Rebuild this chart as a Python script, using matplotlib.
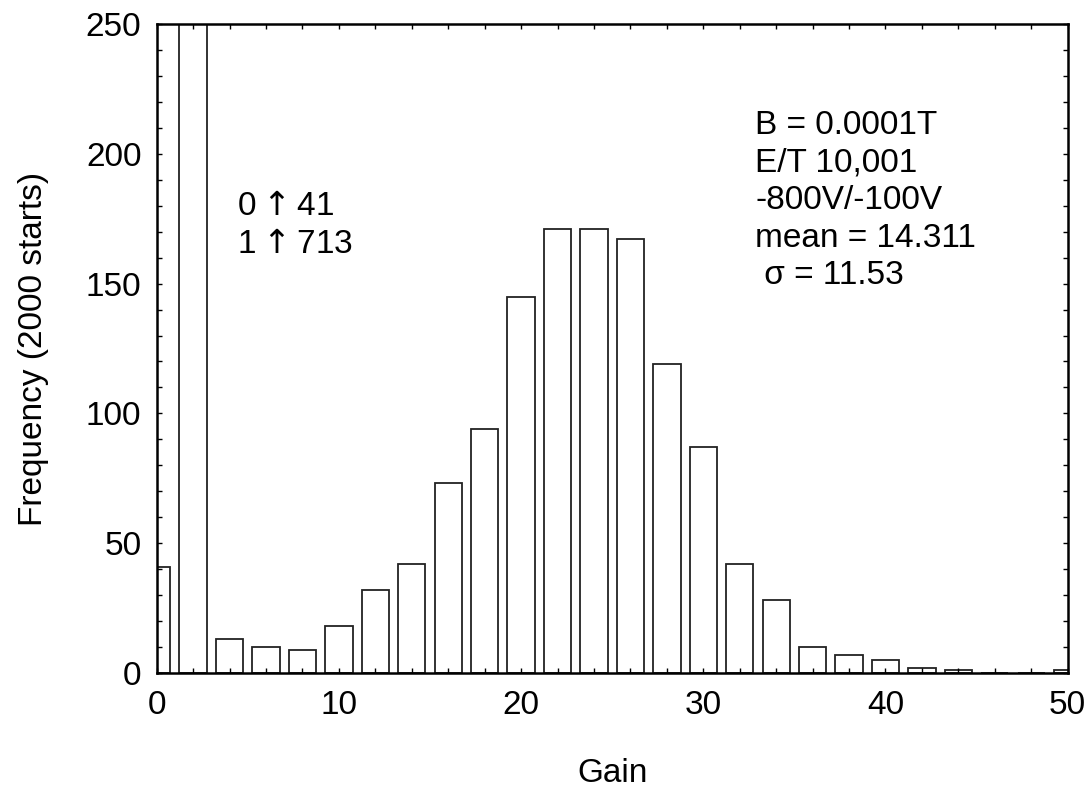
import matplotlib
matplotlib.use("Agg")
import matplotlib.pyplot as plt
from matplotlib.ticker import MultipleLocator

plt.rcParams['font.family'] = ['Liberation Sans', 'DejaVu Sans']
plt.rcParams['mathtext.fontset'] = 'dejavusans'

gain = [0, 2, 4, 6, 8, 10, 12, 14, 16, 18, 20, 22, 24, 26, 28, 30, 32, 34, 36, 38, 40, 42, 44, 46, 48, 50]
freq = [41, 713, 13, 10, 9, 18, 32, 42, 73, 94, 145, 171, 171, 167, 119, 87, 42, 28, 10, 7, 5, 2, 1, 0, 0, 1]

fig = plt.figure(figsize=(10.89, 7.89), dpi=100)
ax = fig.add_axes([156.7/1089, 1 - 673/789, (1067.7-156.7)/1089, (673-24)/789])

ax.bar(gain, freq, width=1.5, facecolor='white', edgecolor='#222222', linewidth=1.3)
ax.set_xlim(0, 50)
ax.set_ylim(0, 250)

for s in ax.spines.values():
    s.set_linewidth(1.8)
    s.set_color('black')

ax.xaxis.set_major_locator(MultipleLocator(10))
ax.xaxis.set_minor_locator(MultipleLocator(2))
ax.yaxis.set_major_locator(MultipleLocator(50))
ax.yaxis.set_minor_locator(MultipleLocator(10))
ax.tick_params(which='both', direction='in', top=True, right=True, length=3.5, width=1.0)
ax.tick_params(which='major', labelsize=24)
ax.tick_params(axis='x', which='major', pad=12)
ax.tick_params(axis='y', which='major', pad=11)

ax.set_xlabel('Gain', fontsize=24)
ax.xaxis.set_label_coords(0.5, (673 - 774) / 649)
ax.xaxis.label.set_va('center')
ax.set_ylabel('Frequency (2000 starts)', fontsize=24)
ax.yaxis.set_label_coords((33 - 156.7) / 911, 0.5)
ax.yaxis.label.set_va('center')

ax.text(4.4, 179.8, r'0${\uparrow}$41', fontsize=24, va='center', ha='left')
ax.text(4.4, 165.2, r'1${\uparrow}$713', fontsize=24, va='center', ha='left')

right_lines = ['B = 0.0001T', 'E/T 10,001', '-800V/-100V', 'mean = 14.311', ' \u03c3 = 11.53']
for i, t in enumerate(right_lines):
    ax.text(32.85, 211.0 - i * 14.5, t, fontsize=24, va='center', ha='left')

fig.savefig('out.png', dpi=100)
